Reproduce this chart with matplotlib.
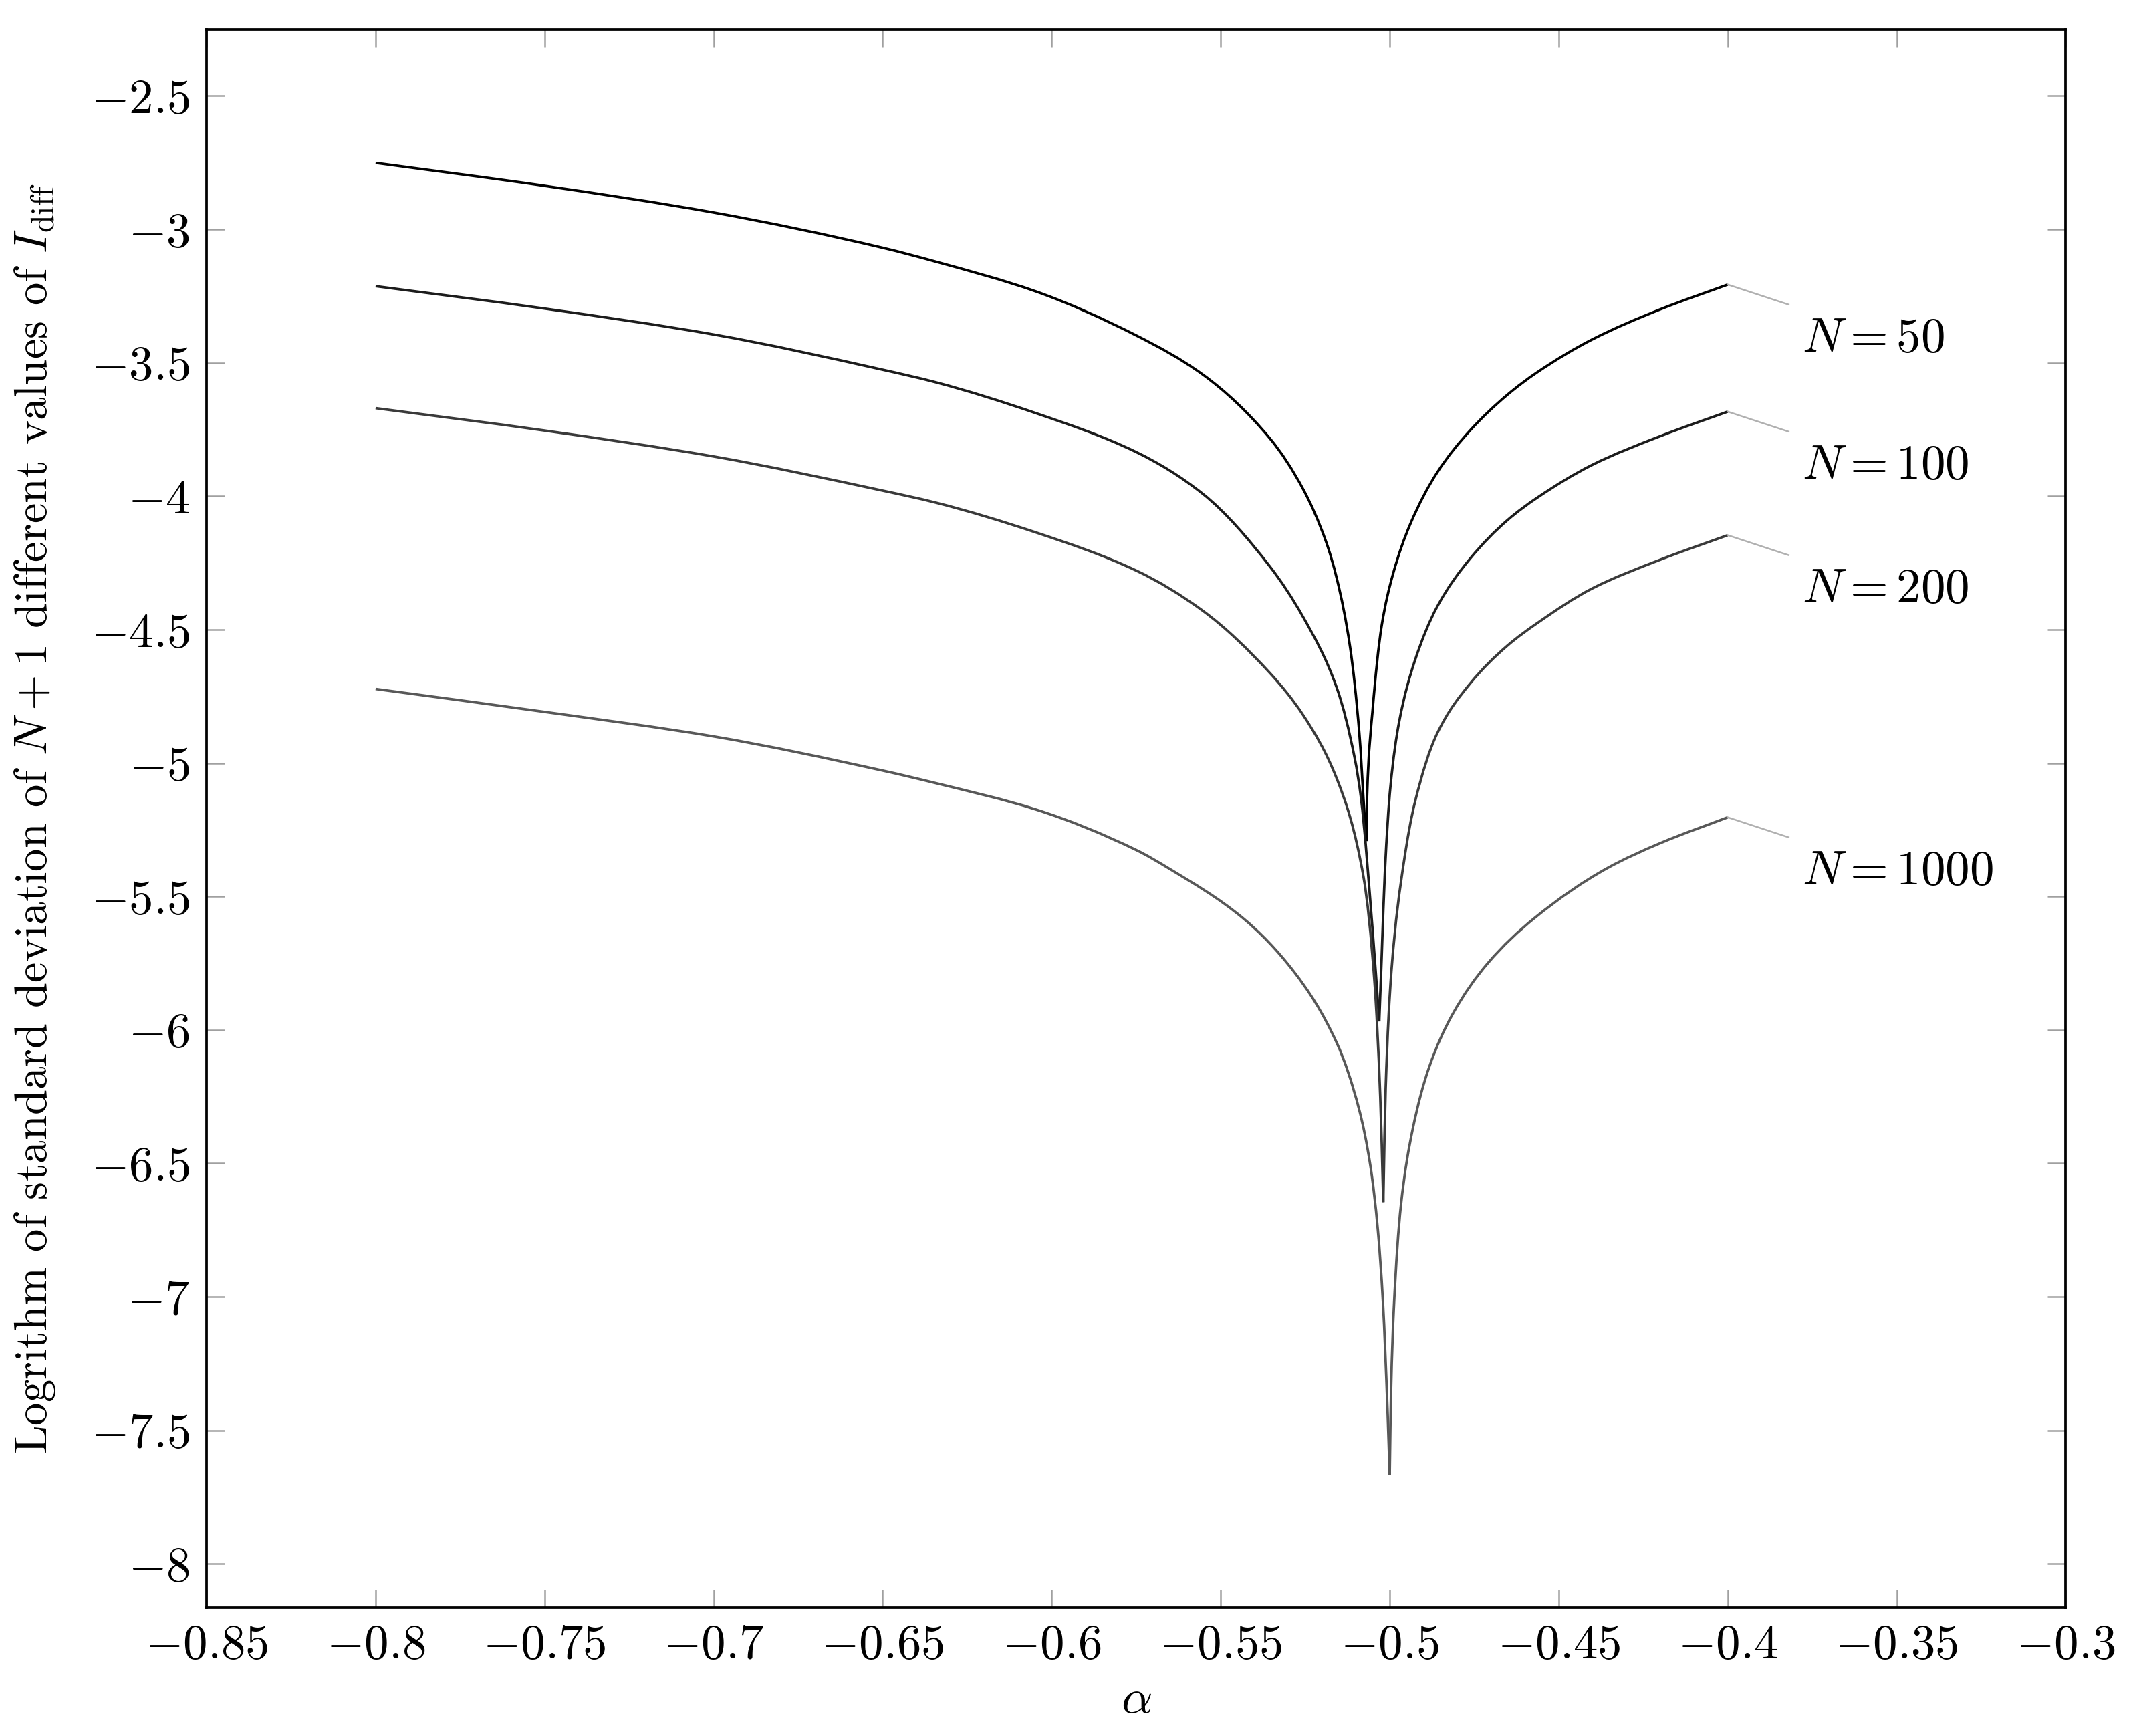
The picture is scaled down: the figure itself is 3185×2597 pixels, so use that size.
import numpy as np
import matplotlib
matplotlib.use('Agg')
import matplotlib.pyplot as plt
from matplotlib.path import Path
from matplotlib.patches import PathPatch

plt.rcParams['font.family'] = 'serif'
plt.rcParams['font.serif'] = ['cmr10']
plt.rcParams['mathtext.fontset'] = 'cm'
plt.rcParams['axes.formatter.use_mathtext'] = True

# values (alpha, log std)
x_50 = [-0.80, -0.75, -0.70, -0.65, -0.6343, -0.6046, -0.5749, -0.5552, -0.5354, -0.5255,
        -0.5189, -0.5156, -0.5117, -0.5090, -0.5074, -0.5069, -0.5067, -0.5051, -0.5024,
        -0.4991, -0.4939, -0.4860, -0.4761, -0.4652, -0.4563, -0.4400, -0.4200, -0.4000]
y_50 = [-2.751, -2.837, -2.937, -3.069, -3.121, -3.233, -3.398, -3.545, -3.784, -3.976,
        -4.168, -4.311, -4.567, -4.886, -5.206, -5.292, -5.126, -4.807, -4.487,
        -4.295, -4.104, -3.912, -3.752, -3.620, -3.535, -3.412, -3.300, -3.207]

x_100 = [-0.80, -0.75, -0.70, -0.65, -0.6343, -0.6046, -0.5749, -0.5552, -0.5354, -0.5255,
         -0.5156, -0.5103, -0.5085, -0.5051, -0.5031, -0.5024, -0.5014, -0.4998, -0.4972,
         -0.4926, -0.4860, -0.4761, -0.4652, -0.4563, -0.4400, -0.4200, -0.4000]
y_100 = [-3.213, -3.297, -3.394, -3.526, -3.573, -3.689, -3.835, -3.992, -4.264, -4.455,
         -4.720, -4.985, -5.130, -5.620, -5.968, -5.735, -5.400, -5.090, -4.845,
         -4.618, -4.415, -4.232, -4.090, -4.005, -3.882, -3.775, -3.683]

x_200 = [-0.80, -0.75, -0.70, -0.65, -0.6343, -0.6046, -0.5749, -0.5552, -0.5354, -0.5255,
         -0.5156, -0.5077, -0.5045, -0.5028, -0.5019, -0.5012, -0.4995, -0.4958, -0.4926,
         -0.4860, -0.4761, -0.4652, -0.4563, -0.4400, -0.4200, -0.4000]
y_200 = [-3.670, -3.754, -3.851, -3.979, -4.024, -4.136, -4.279, -4.430, -4.663, -4.822,
         -5.060, -5.430, -5.820, -6.250, -6.645, -6.220, -5.780, -5.370, -5.150,
         -4.890, -4.700, -4.560, -4.475, -4.345, -4.238, -4.146]

x_1000 = [-0.80, -0.75, -0.70, -0.65, -0.6343, -0.6046, -0.5749, -0.5654, -0.5434, -0.5283,
          -0.5156, -0.5090, -0.5057, -0.5035, -0.5020, -0.5006, -0.5000, -0.4996, -0.4988,
          -0.4967, -0.4932, -0.4884, -0.4814, -0.4710, -0.4572, -0.4357, -0.4200, -0.4000]
y_1000 = [-4.722, -4.808, -4.900, -5.028, -5.075, -5.174, -5.326, -5.394, -5.581, -5.782,
          -6.050, -6.300, -6.510, -6.750, -7.020, -7.440, -7.668, -7.350, -7.048,
          -6.659, -6.372, -6.142, -5.941, -5.750, -5.581, -5.394, -5.300, -5.203]

series = [
    (x_50, y_50, r'$N = 50$', '#000000'),
    (x_100, y_100, r'$N = 100$', '#1c1c1c'),
    (x_200, y_200, r'$N = 200$', '#3a3a3a'),
    (x_1000, y_1000, r'$N = 1000$', '#585858'),
]

x_ticks = [-0.85, -0.8, -0.75, -0.7, -0.65, -0.6, -0.55, -0.5, -0.45, -0.4, -0.35, -0.3]
x_tick_labels = [r'$-0.85$', r'$-0.8$', r'$-0.75$', r'$-0.7$', r'$-0.65$', r'$-0.6$',
                 r'$-0.55$', r'$-0.5$', r'$-0.45$', r'$-0.4$', r'$-0.35$', r'$-0.3$']
y_ticks = [-8, -7.5, -7, -6.5, -6, -5.5, -5, -4.5, -4, -3.5, -3, -2.5]
y_tick_labels = [r'$-8$', r'$-7.5$', r'$-7$', r'$-6.5$', r'$-6$', r'$-5.5$',
                 r'$-5$', r'$-4.5$', r'$-4$', r'$-3.5$', r'$-3$', r'$-2.5$']


def smooth_branch(xs, ys):
    # bezier path through the points (monotone cubic tangents), like pgfplots "smooth"
    x = np.asarray(xs, float)
    y = np.asarray(ys, float)
    h = np.diff(x)
    delta = np.diff(y) / h
    d = np.zeros_like(x)
    d[0], d[-1] = delta[0], delta[-1]
    for k in range(1, len(x) - 1):
        if delta[k - 1] * delta[k] <= 0:
            d[k] = 0.0
        else:
            w1 = 2 * h[k] + h[k - 1]
            w2 = h[k] + 2 * h[k - 1]
            d[k] = (w1 + w2) / (w1 / delta[k - 1] + w2 / delta[k])
    verts = [(x[0], y[0])]
    codes = [Path.MOVETO]
    for k in range(len(x) - 1):
        verts += [(x[k] + h[k] / 3, y[k] + d[k] * h[k] / 3),
                  (x[k + 1] - h[k] / 3, y[k + 1] - d[k + 1] * h[k] / 3),
                  (x[k + 1], y[k + 1])]
        codes += [Path.CURVE4] * 3
    return Path(verts, codes)


fig = plt.figure(figsize=(10.62, 8.657), dpi=300)
ax = fig.add_axes([0.097, 0.074, 0.873, 0.909])

for xs, ys, label, color in series:
    dip = int(np.argmin(ys))
    for bx, by in [(xs[:dip + 1], ys[:dip + 1]), (xs[dip:], ys[dip:])]:
        ax.add_patch(PathPatch(smooth_branch(bx, by), fill=False, edgecolor=color,
                               lw=0.9, joinstyle='miter'))
    # pin from the end of the curve to the label
    x_end, y_end = xs[-1], ys[-1]
    ax.plot([x_end, x_end + 0.018], [y_end, y_end - 0.075], color='#b0b0b0', lw=0.6)
    ax.text(x_end + 0.022, y_end - 0.205, label, fontsize=17.5, va='center', ha='left')

ax.set_xlim(-0.85, -0.3)
ax.set_ylim(-8.164, -2.251)
ax.set_xticks(x_ticks)
ax.set_xticklabels(x_tick_labels)
ax.set_yticks(y_ticks)
ax.set_yticklabels(y_tick_labels)
ax.tick_params(direction='in', length=6.5, width=0.6, color='#a0a0a0',
               top=True, right=True, labelsize=17.5, pad=6)
for sp in ax.spines.values():
    sp.set_linewidth(0.9)
    sp.set_color('black')

ax.set_xlabel(r'$\alpha$', fontsize=17.5, labelpad=4)
ax.set_ylabel(r'Logrithm of standard deviation of $N+1$ different values of $I_{\mathrm{diff}}$',
              fontsize=16.5, labelpad=12)

fig.savefig('out.png', dpi=300)
